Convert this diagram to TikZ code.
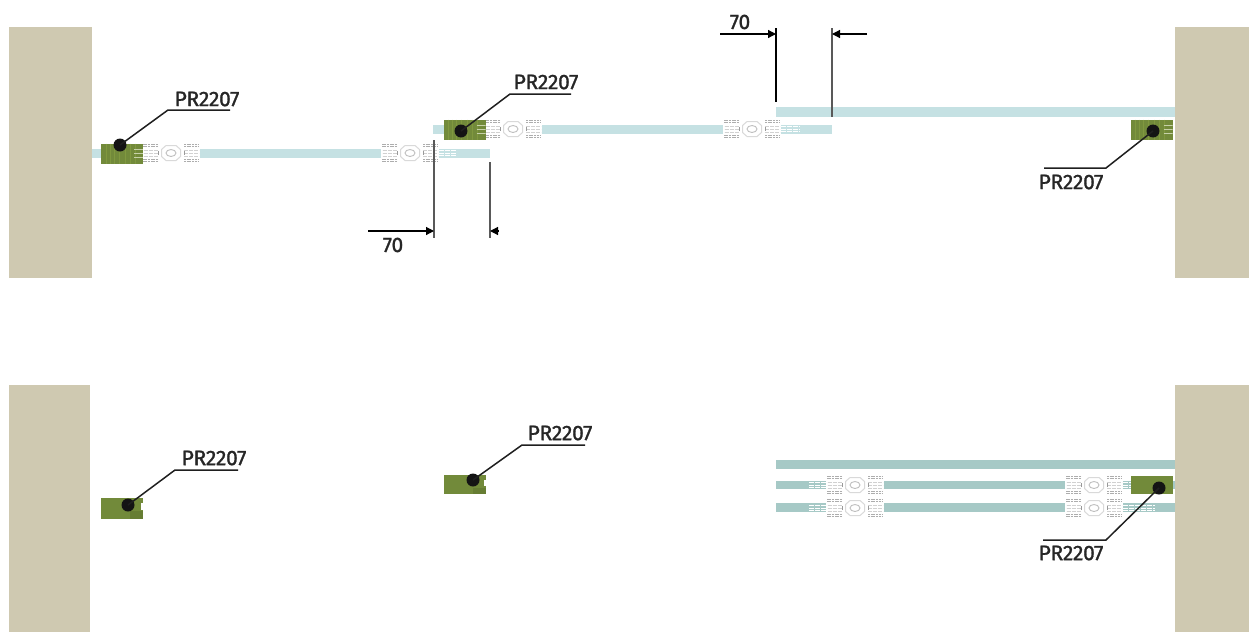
\documentclass[tikz,border=0pt]{standalone}
\usepackage{fontspec}
\setmainfont{Fira Sans}
\newfontfamily\labfont[FakeBold=1.3,LetterSpace=-1.5]{Fira Sans}
\usetikzlibrary{arrows.meta}
\definecolor{wallc}{HTML}{CFC9B1}
\definecolor{railtop}{HTML}{C5E1E3}
\definecolor{railbot}{HTML}{A6C9C6}
\definecolor{blockc}{HTML}{728A3A}
\definecolor{blockl}{HTML}{80983F}
\definecolor{blockd}{HTML}{667D33}
\definecolor{hwc}{HTML}{A9AEAE}
\tikzset{
  wall/.style={fill=wallc,draw=none},
  blockn/.style={fill=blockc,draw=none,inner sep=0pt,minimum width=42pt,minimum height=20pt},
  striped/.style={path picture={
    \foreach \sx in {-16,-12,-8,-3,3,8,13}{
      \draw[blockl,line width=.9pt] ([xshift=\sx pt]path picture bounding box.north) -- ([xshift=\sx pt]path picture bounding box.south);
    }
    \foreach \sy in {-4,0,4}{
      \draw[white!55!blockl,line width=.8pt] ([xshift=12pt,yshift=\sy pt]path picture bounding box.center) -- ([xshift=21pt,yshift=\sy pt]path picture bounding box.center);
    }
  }},
  dotn/.style={circle,fill=black!92,draw=none,inner sep=0pt,minimum size=13pt},
  lab/.style={inner sep=0pt,font=\labfont\fontsize{21}{21}\selectfont,text=black!85},
  leader/.style={draw=black!88,line width=1.5pt},
  dimline/.style={draw=black!65,line width=1.1pt},
  dimarrow/.style={draw=black,line width=1.2pt,-{Triangle[length=8pt,width=8pt]}},
  hwline/.style={draw=hwc,line width=.7pt},
  pics/hardware/.style={code={
    \fill[white] (-29,-11) rectangle (29,11);
    \foreach \s in {-1,1}{
      \foreach \yy in {-8.5,-6.5,6.5,8.5}{
        \draw[hwline,draw=black!32,dash pattern=on 2pt off .7pt] (\s*13,\yy) -- (\s*28,\yy);
      }
      \foreach \yy in {-3,0,3}{
        \draw[hwline,black!18,dash pattern=on 4pt off 1pt] (\s*13,\yy) -- (\s*28,\yy);
      }
      \draw[hwline,black!40] (\s*13,-2) -- (\s*13,2);
    }
    \draw[hwline,black!15,line width=1pt] (-9.5,-3.5) -- (-5,-7.5) -- (5,-7.5) -- (9.5,-3.5) -- (9.5,3.5) -- (5,7.5) -- (-5,7.5) -- (-9.5,3.5) -- cycle;
    \draw[hwline,black!25,line width=.9pt] (0,0) ellipse (5 and 3.5);
  }},
  pics/tail/.style={code={
    \foreach \yy in {-2.2,0,2.2}{
      \draw[white,line width=.9pt,dash pattern=on 5pt off 1pt] (0,\yy) -- (#1,\yy);
    }
  }}
}
\begin{document}
\begin{tikzpicture}[x=1pt,y=-1pt]
\useasboundingbox (0,0) rectangle (1249,632);
% walls
\fill[wall] (9,27) rectangle (92,278);
\fill[wall] (1175,27) rectangle (1249,278);
\fill[wall] (9,385) rectangle (90,632);
\fill[wall] (1175,385) rectangle (1249,632);
% rails, top
\fill[railtop] (92,149) rectangle (490,158);
\fill[railtop] (433,125) rectangle (832,134);
\fill[railtop] (776,107) rectangle (1175,117);
% rails, bottom
\fill[railbot] (776,460) rectangle (1175,469);
\fill[railbot] (776,481) rectangle (1175,489);
\fill[railbot] (776,503) rectangle (1175,512);
% hardware
\foreach \hx/\hy in {171/153,410/153,513/129,752/129,855/485,855/508,1094/485,1094/508}{
  \pic at (\hx,\hy) {hardware};
}
\pic at (439,153) {tail={18}};
\pic at (781,129) {tail={19}};
\pic at (809,485) {tail={17}};
\pic at (809,508) {tail={17}};
\pic at (1123,508) {tail={32}};
\pic at (1123,485) {tail={8}};
% blocks
\node[blockn,striped] (b1) at (122,153.5) {};
\node[blockn,striped] (b2) at (464.5,129.5) {};
\node[blockn,striped] (b3) at (1151.5,129.5) {};
\node[blockn,minimum height=21pt] (b4) at (122,508.5) {};
\node[blockn,minimum height=19pt] (b5) at (464.5,484.5) {};
\node[blockn,minimum height=18pt] (b6) at (1151.5,485) {};
% block notches
\fill[blockd] (130,511) rectangle (143,519);
\fill[white] (141,503) rectangle (143.2,510);
\fill[blockd] (473,488) rectangle (486,494);
\fill[white] (484,480) rectangle (486.2,486);
% dots
\node[dotn] (d1) at (120,145) {};
\node[dotn] (d2) at (461,131) {};
\node[dotn] (d3) at (1153,131) {};
\node[dotn] (d4) at (128,505) {};
\node[dotn] (d5) at (473,480) {};
\node[dotn] (d6) at (1159,488) {};
% labels
\node[lab] (t1) at (207,99) {PR2207};
\node[lab] (t2) at (546,82) {PR2207};
\node[lab] (t3) at (1071,182) {PR2207};
\node[lab] (t4) at (214,458) {PR2207};
\node[lab] (t5) at (560,433) {PR2207};
\node[lab] (t6) at (1071,553) {PR2207};
% leader elbows and ends
\coordinate (e1) at (168,110); \coordinate (f1) at (230,110);
\coordinate (e2) at (510,94);  \coordinate (f2) at (571,94);
\coordinate (e3) at (1106,168);\coordinate (f3) at (1044,168);
\coordinate (e4) at (175,470); \coordinate (f4) at (238,470);
\coordinate (e5) at (522,445); \coordinate (f5) at (585,445);
\coordinate (e6) at (1106,540);\coordinate (f6) at (1043,540);
\foreach \i in {1,...,6}{
  \draw[leader] (d\i.center) -- (e\i) -- (f\i);
}
% dimensions, lower
\coordinate (la) at (434,140); \coordinate (lb) at (434,238);
\coordinate (ma) at (490,162); \coordinate (mb) at (490,238);
\draw[dimline] (la) -- (lb);
\draw[dimline] (ma) -- (mb);
\coordinate (a1s) at (368,231); \coordinate (a1e) at (434,231);
\draw[dimarrow] (a1s) -- (a1e);
\coordinate (a2s) at (498,231); \coordinate (a2e) at (490,231);
\draw[dimarrow] (a2s) -- (a2e);
\node[lab] (n1) at (393,245) {70};
% dimensions, upper
\coordinate (ua) at (776,28); \coordinate (ub) at (776,102);
\coordinate (va) at (832,28); \coordinate (vb) at (832,117);
\draw[dimline,black,line width=1.3pt] (ua) -- (ub);
\draw[dimline] (va) -- (vb);
\coordinate (a3s) at (720,34); \coordinate (a3e) at (776,34);
\draw[dimarrow] (a3s) -- (a3e);
\coordinate (a4s) at (867,34); \coordinate (a4e) at (832,34);
\draw[dimarrow] (a4s) -- (a4e);
\node[lab] (n2) at (740,22) {70};
\end{tikzpicture}
\end{document}
